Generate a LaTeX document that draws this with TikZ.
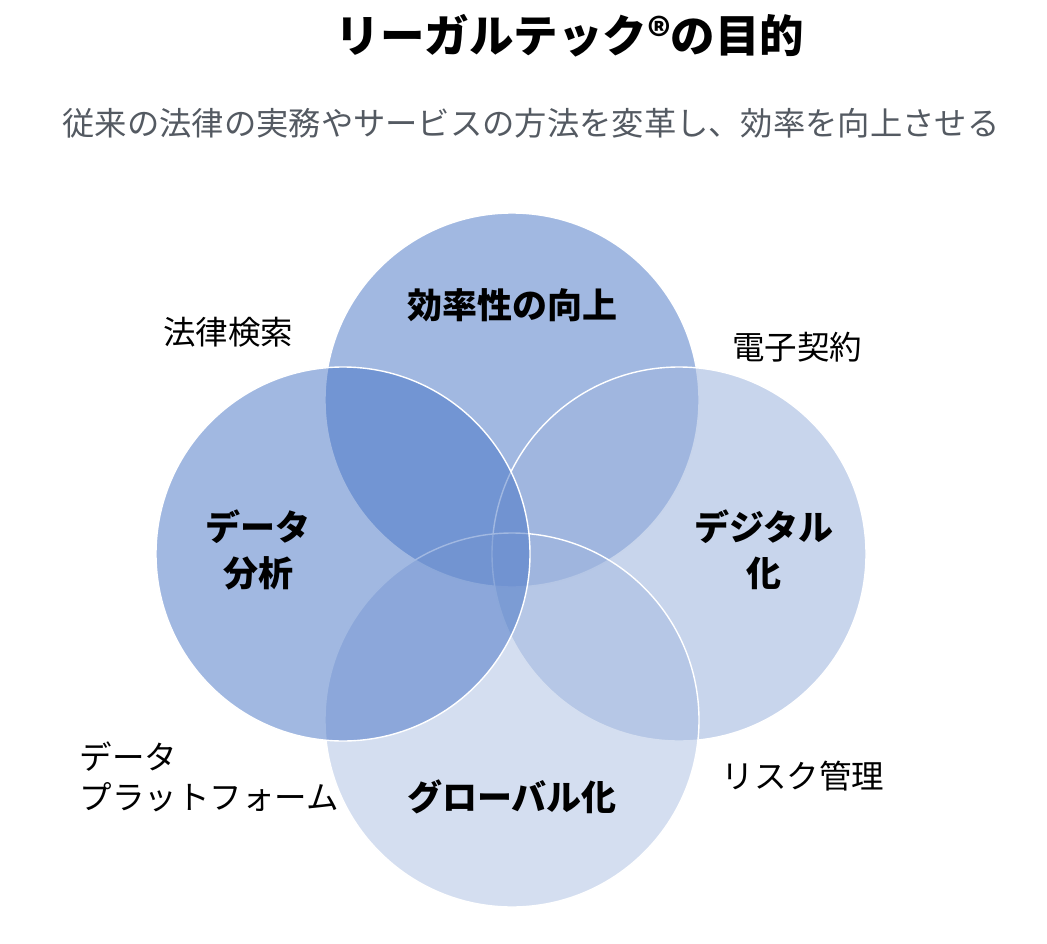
\documentclass[tikz,border=0pt]{standalone}
\usepackage{fontspec}
\setmainfont{Noto Sans CJK JP}
\definecolor{vennblue}{RGB}{68,114,196}
\definecolor{vennpale}{RGB}{160,182,222}
\definecolor{subgray}{RGB}{84,90,98}

\begin{document}
\begin{tikzpicture}[x=1pt,y=-1pt,
  venn/.style={fill=vennblue,draw=white,line width=1.4pt},
  goal/.style={font=\fontsize{35}{46}\selectfont\bfseries,align=center},
  tech/.style={font=\fontsize{32.5}{40}\selectfont,align=left}]
\useasboundingbox (0,0) rectangle (1047,944);

\path[venn,fill opacity=0.5] (512,400) circle[radius=187pt];
\path[venn,fill=vennpale,fill opacity=0.58] (679,554) circle[radius=187pt];
\path[venn,fill=vennpale,fill opacity=0.45] (512,720) circle[radius=187pt];
\path[venn,fill opacity=0.5] (343,554) circle[radius=187pt];

\node (title) at (570,36) {\fontsize{44.5}{52}\selectfont\bfseries リーガルテック®の目的};
\node[text=subgray] (sub) at (531,123) {\fontsize{32.3}{38}\selectfont 従来の法律の実務やサービスの方法を変革し、効率を向上させる};

\node[goal] (eff) at (512,305) {効率性の向上};
\node[goal] (data) at (258,550) {データ\\分析};
\node[goal] (digi) at (764,550) {デジタル\\化};
\node[goal] (glob) at (512,797) {グローバル化};

\node[tech] (search) at (228,332) {法律検索};
\node[tech] (contract) at (797,347) {電子契約};
\node[tech,anchor=west] (platform) at (76,777) {データ\\プラットフォーム};
\node[tech] (risk) at (803,776) {リスク管理};
\end{tikzpicture}
\end{document}
